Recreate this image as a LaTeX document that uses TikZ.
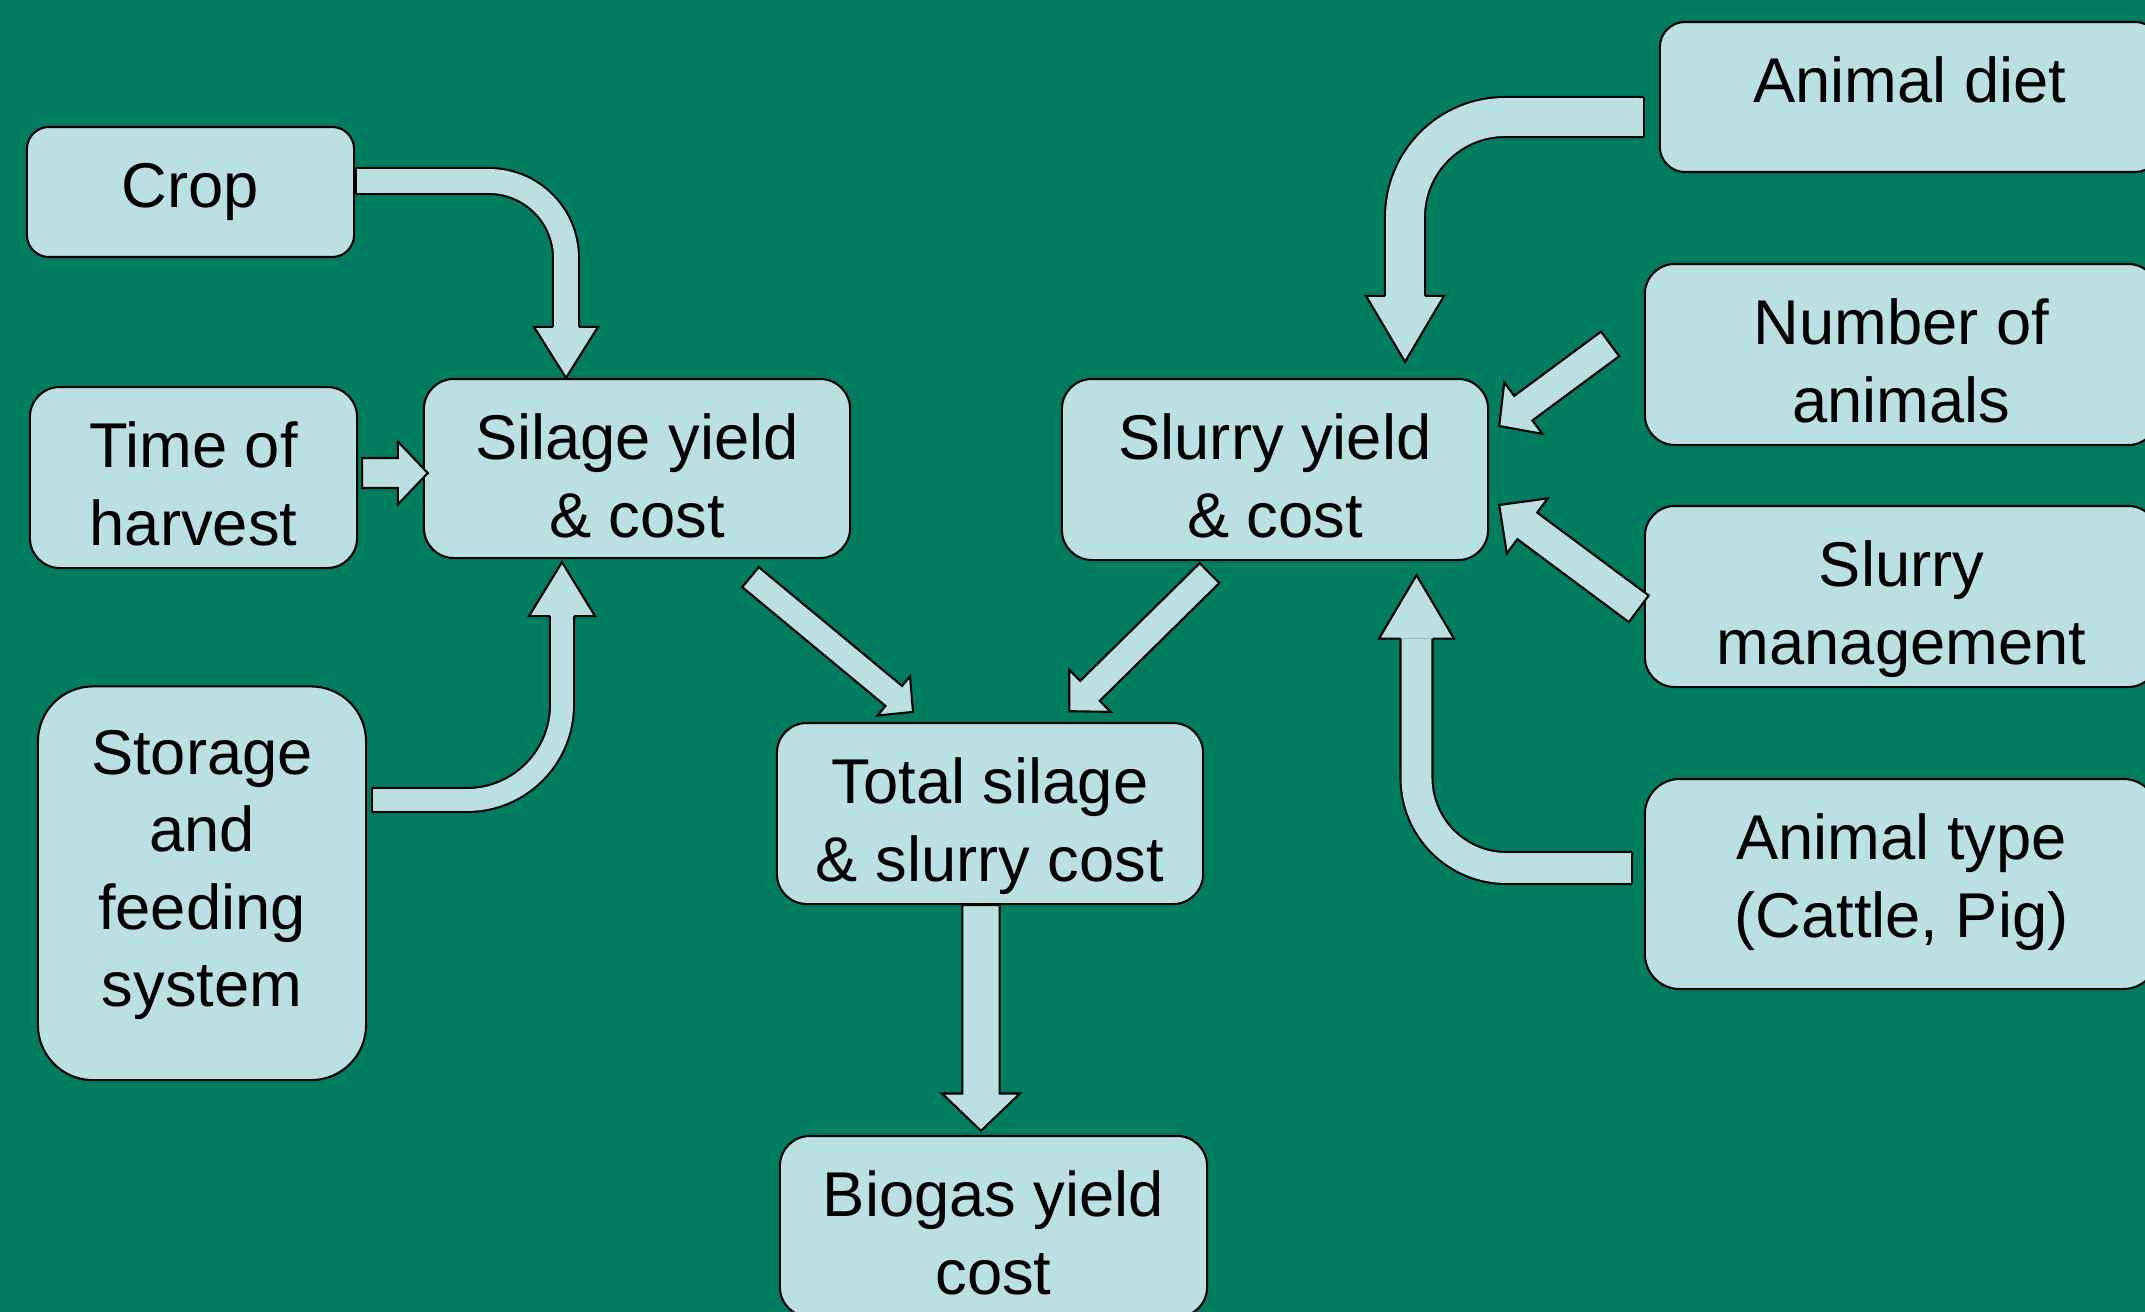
\documentclass[tikz,border=0pt]{standalone}
\usepackage{fontspec}
\setmainfont{Liberation Sans}
\usetikzlibrary{calc}

\definecolor{slidegreen}{RGB}{0,125,96}
\definecolor{boxfill}{RGB}{187,224,227}

\newcommand{\boxtop}[1][0.805cm]{\rule{0pt}{#1}}
\newcommand{\boxbottom}[1]{\rule[-#1]{0pt}{0pt}}

\tikzset{
  box/.style={draw=black, fill=boxfill, line width=0.6pt, align=center, inner sep=0pt,
    font=\fontsize{18}{22}\selectfont},
  arrowbody/.style={draw=black, fill=boxfill, line width=0.6pt, line join=miter}
}

\newcommand{\blockarrow}[5]{%
  \coordinate (abase) at ($(#2)!#5!(#1)$);
  \filldraw[arrowbody] ($(#1)!#3!90:(#2)$) -- ($(abase)!#3!90:(#2)$) -- ($(abase)!#4!90:(#2)$) -- (#2)
    -- ($(abase)!#4!-90:(#2)$) -- ($(abase)!#3!-90:(#2)$) -- ($(#1)!#3!-90:(#2)$) -- cycle;}

\newcommand{\bentarrow}[6]{%
  \draw[line width=0.6pt, double=boxfill, double distance=2*#4-0.6pt, rounded corners=#6] (#1) -| (#2);
  \draw[line width=0.6pt] ($(#1)+(0,#4)$) -- ($(#1)+(0,-#4)$);
  \fill[boxfill] ($(#2)!#5!90:(#3)$) -- (#3) -- ($(#2)!#5!-90:(#3)$) -- cycle;
  \draw[line width=0.6pt, line join=miter] ($(#2)!#4!90:(#3)$) -- ($(#2)!#5!90:(#3)$) -- (#3)
    -- ($(#2)!#5!-90:(#3)$) -- ($(#2)!#4!-90:(#3)$);}

\begin{document}
\begin{tikzpicture}[x=0.01cm, y=-0.01cm]
   \useasboundingbox (0,0) rectangle (2145,1312);
   \fill[slidegreen] (0,0) rectangle (2145,1312);

   \node[box, minimum width=3.27cm, minimum height=1.30cm, rounded corners=0.22cm] (crop) at (190.5,192) {\boxtop Crop\boxbottom{0.495cm}};
   \node[box, minimum width=3.27cm, minimum height=1.81cm, rounded corners=0.3cm] (harvest) at (193.5,477.5) {\boxtop Time of\\harvest\boxbottom{0.229cm}};
   \node[box, minimum width=3.28cm, minimum height=3.935cm, rounded corners=0.55cm] (storage) at (202,883.25) {\boxtop[0.875cm]Storage\\and\\feeding\\system\boxbottom{0.732cm}};
   \node[box, minimum width=4.26cm, minimum height=1.79cm, rounded corners=0.3cm] (silage) at (637,468.5) {\boxtop Silage yield\\\& cost\boxbottom{0.209cm}};
   \node[box, minimum width=4.26cm, minimum height=1.81cm, rounded corners=0.3cm] (slurry) at (1275,469.5) {\boxtop Slurry yield\\\& cost\boxbottom{0.229cm}};
   \node[box, minimum width=4.26cm, minimum height=1.81cm, rounded corners=0.3cm] (total) at (990,813.5) {\boxtop Total silage\\\& slurry cost\boxbottom{0.229cm}};
   \node[box, minimum width=4.27cm, minimum height=1.81cm, rounded corners=0.3cm] (biogas) at (993.5,1226.5) {\boxtop Biogas yield\\cost\boxbottom{0.229cm}};
   \node[box, minimum width=5.00cm, minimum height=1.50cm, rounded corners=0.25cm] (diet) at (1910,97) {\boxtop Animal diet\boxbottom{0.695cm}};
   \node[box, minimum width=5.13cm, minimum height=1.81cm, rounded corners=0.3cm] (number) at (1901.5,354.5) {\boxtop Number of\\animals\boxbottom{0.229cm}};
   \node[box, minimum width=5.13cm, minimum height=1.81cm, rounded corners=0.3cm] (mgmt) at (1901.5,596.5) {\boxtop Slurry\\management\boxbottom{0.229cm}};
   \node[box, minimum width=5.13cm, minimum height=2.10cm, rounded corners=0.35cm] (animaltype) at (1901.5,884) {\boxtop Animal type\\(Cattle, Pig)\boxbottom{0.519cm}};

   \coordinate (cropout) at ($(crop.east)+(1,-11)$);
   \coordinate (cropbase) at ($(silage.north)+(-71,-51)$);
   \coordinate (cropin) at ($(silage.north)+(-71,0)$);
   \coordinate (harvestout) at ($(harvest.east)+(4,-4.5)$);
   \coordinate (harvestin) at ($(silage.west)+(5,4.5)$);
   \coordinate (storageout) at ($(storage.east)+(5,-83.25)$);
   \coordinate (storagebase) at ($(silage.south)+(-75,57)$);
   \coordinate (storagein) at ($(silage.south)+(-75,3)$);
   \coordinate (silageout) at ($(silage.south)+(113.5,18)$);
   \coordinate (totalin1) at ($(total.north)+(-77,-10)$);
   \coordinate (slurryout) at ($(slurry.south)+(-65.5,12)$);
   \coordinate (totalin2) at ($(total.north)+(79.3,-10.7)$);
   \coordinate (totalout) at ($(total.south)+(-9,0)$);
   \coordinate (biogasin) at ($(biogas.north)+(-12.5,-4)$);
   \coordinate (dietout) at ($(diet.west)+(-15,20)$);
   \coordinate (dietbase) at ($(slurry.north)+(130,-82)$);
   \coordinate (dietin) at ($(slurry.north)+(130,-16)$);
   \coordinate (numberout) at ($(number.west)+(-33.7,-10.6)$);
   \coordinate (slurryin1) at ($(slurry.east)+(10,-43.5)$);
   \coordinate (mgmtout) at ($(mgmt.west)+(-5,12.3)$);
   \coordinate (slurryin2) at ($(slurry.east)+(10,35.5)$);
   \coordinate (typeout) at ($(animaltype.west)+(-12,-16)$);
   \coordinate (typebase) at ($(slurry.south)+(141.5,77.5)$);
   \coordinate (typein) at ($(slurry.south)+(141.5,14)$);

   \bentarrow{cropout}{cropbase}{cropin}{0.13cm}{0.32cm}{0.77cm}
   \bentarrow{storageout}{storagebase}{storagein}{0.12cm}{0.33cm}{0.95cm}
   \bentarrow{dietout}{dietbase}{dietin}{0.2cm}{0.39cm}{1.0cm}
   \bentarrow{typeout}{typebase}{typein}{0.16cm}{0.375cm}{0.9cm}

   \blockarrow{harvestout}{harvestin}{0.15cm}{0.315cm}{0.3cm}
   \blockarrow{silageout}{totalin1}{0.13cm}{0.255cm}{0.25cm}
   \blockarrow{slurryout}{totalin2}{0.14cm}{0.295cm}{0.29cm}
   \blockarrow{totalout}{biogasin}{0.186cm}{0.39cm}{0.374cm}
   \blockarrow{numberout}{slurryin1}{0.153cm}{0.32cm}{0.3cm}
   \blockarrow{mgmtout}{slurryin2}{0.166cm}{0.343cm}{0.35cm}
\end{tikzpicture}
\end{document}
